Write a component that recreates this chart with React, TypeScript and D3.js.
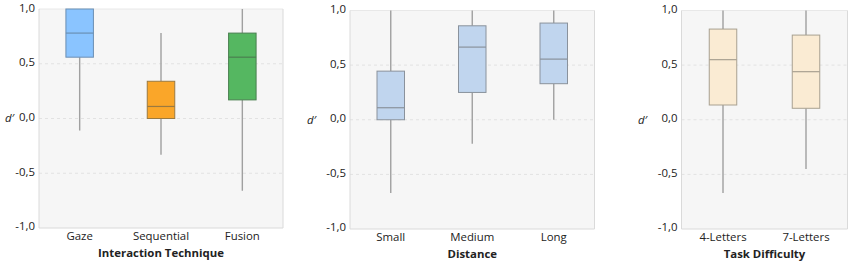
import React from "react";
import * as d3 from "d3";

type BoxStat = { cat: string; low: number; q1: number; med: number; q3: number; high: number };

const techCategories = ["Gaze", "Sequential", "Fusion"];
const techLow = [-0.11, -0.33, -0.66];
const techQ1 = [0.56, 0.0, 0.17];
const techMed = [0.78, 0.11, 0.56];
const techQ3 = [1.0, 0.34, 0.78];
const techHigh = [1.0, 0.78, 1.0];
const techFill = ["#8AC4FF", "#FAA629", "#55B761"];
const techStroke = ["#6B8FB3", "#9B7A40", "#4A7F50"];

const distCategories = ["Small", "Medium", "Long"];
const distLow = [-0.67, -0.22, 0.0];
const distQ1 = [0.0, 0.25, 0.33];
const distMed = [0.11, 0.665, 0.555];
const distQ3 = [0.445, 0.86, 0.885];
const distHigh = [1.0, 1.0, 1.0];

const diffCategories = ["4-Letters", "7-Letters"];
const diffLow = [-0.67, -0.45];
const diffQ1 = [0.135, 0.105];
const diffMed = [0.55, 0.44];
const diffQ3 = [0.83, 0.775];
const diffHigh = [1.0, 1.0];

const yTicks = [1.0, 0.5, 0.0, -0.5, -1.0];
const gridTicks = [0.5, 0.0, -0.5];

const FONT = "'Open Sans', 'Noto Sans', sans-serif";
const FS = 11.4;

function build(cats: string[], lo: number[], q1: number[], md: number[], q3: number[], hi: number[]): BoxStat[] {
  return cats.map((c, i) => ({ cat: c, low: lo[i], q1: q1[i], med: md[i], q3: q3[i], high: hi[i] }));
}

const fmt = (v: number) => d3.format(".1f")(v).replace(".", ",").replace("−", "-");

function Panel(props: {
  left: number; right: number; top: number; bottom: number;
  data: BoxStat[]; fills: string[]; strokes: string[]; title: string; dLabelX: number;
}) {
  const { left, right, top, bottom, data, fills, strokes, title, dLabelX } = props;
  const x = d3.scaleBand<string>().domain(data.map(d => d.cat)).range([left, right]).paddingInner(0).paddingOuter(0);
  const y = d3.scaleLinear().domain([-1, 1]).range([bottom, top]);
  const bw = 27.5;
  return (
    <g>
      <rect x={left} y={top} width={right - left} height={bottom - top} fill="#F6F6F6" />
      <line x1={left} x2={right} y1={top} y2={top} stroke="#E8E8E8" />
      {gridTicks.map(t => (
        <line key={t} x1={left} x2={right} y1={y(t)} y2={y(t)} stroke="#E2E2E2" strokeDasharray="3,3" strokeWidth={1} />
      ))}
      <line x1={left} x2={left} y1={top} y2={bottom} stroke="#DADADA" />
      <line x1={right} x2={right} y1={top} y2={bottom} stroke="#DADADA" />
      <line x1={left} x2={right} y1={bottom} y2={bottom} stroke="#DADADA" />
      {yTicks.map(t => (
        <text key={t} x={left - 4} y={y(t) - 1.5} dy="0.35em" textAnchor="end" fontSize={FS} fill="#222" fontFamily={FONT}>
          {fmt(t)}
        </text>
      ))}
      <text x={dLabelX} y={y(0)} dy="0.35em" fontSize={FS} fontStyle="italic" fill="#222" fontFamily={FONT}>d′</text>
      {data.map((d, i) => {
        const cx = (x(d.cat) as number) + x.bandwidth() / 2;
        return (
          <g key={d.cat}>
            <line x1={cx} x2={cx} y1={y(d.high)} y2={y(d.q3)} stroke="#A0A0A0" strokeWidth={1.4} />
            <line x1={cx} x2={cx} y1={y(d.q1)} y2={y(d.low)} stroke="#A0A0A0" strokeWidth={1.4} />
            <rect x={cx - bw / 2} y={y(d.q3)} width={bw} height={y(d.q1) - y(d.q3)} fill={fills[i]} stroke={strokes[i]} strokeWidth={1} />
            <line x1={cx - bw / 2} x2={cx + bw / 2} y1={y(d.med)} y2={y(d.med)} stroke={strokes[i]} strokeWidth={1.2} />
            <text x={cx} y={bottom + 8} dy="0.35em" textAnchor="middle" fontSize={FS} fill="#222" fontFamily={FONT}>{d.cat}</text>
          </g>
        );
      })}
      <text x={(left + right) / 2} y={bottom + 25} dy="0.35em" textAnchor="middle" fontSize={FS} fontWeight="bold" fill="#222" fontFamily={FONT}>{title}</text>
    </g>
  );
}

export default function App() {
  const tech = build(techCategories, techLow, techQ1, techMed, techQ3, techHigh);
  const dist = build(distCategories, distLow, distQ1, distMed, distQ3, distHigh);
  const diff = build(diffCategories, diffLow, diffQ1, diffMed, diffQ3, diffHigh);
  return (
    <svg width={850} height={265} style={{ position: "absolute", left: 0, top: 0, background: "#fff" }}>
      <Panel left={39} right={283} top={9} bottom={228} data={tech} fills={techFill} strokes={techStroke}
        title="Interaction Technique" dLabelX={5} />
      <Panel left={350} right={594.5} top={10.5} bottom={229} data={dist} fills={["#C0D5EE", "#C0D5EE", "#C0D5EE"]}
        strokes={["#8A929C", "#8A929C", "#8A929C"]} title="Distance" dLabelX={307} />
      <Panel left={681.5} right={847.5} top={10.5} bottom={229} data={diff} fills={["#FAEBD3", "#FAEBD3"]}
        strokes={["#A8A090", "#A8A090"]} title="Task Difficulty" dLabelX={638} />
    </svg>
  );
}
